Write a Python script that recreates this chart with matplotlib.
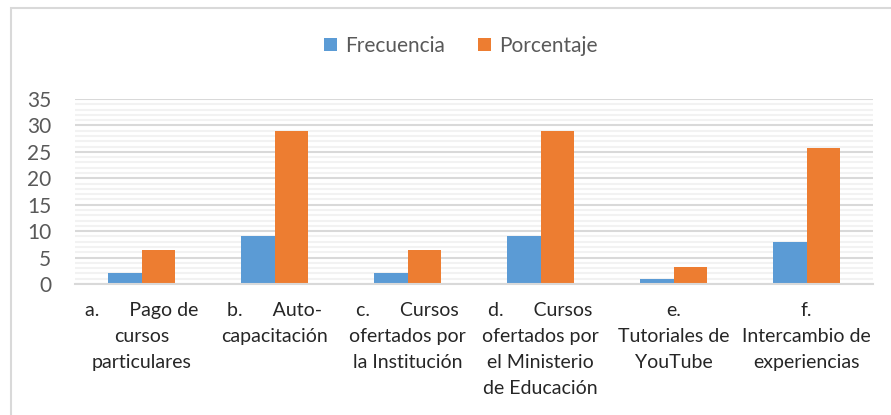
import matplotlib
matplotlib.use("Agg")
import matplotlib.pyplot as plt
from matplotlib.patches import Rectangle
import numpy as np

categories = [
    "a.      Pago de\ncursos\nparticulares",
    "b.      Auto-\ncapacitación",
    "c.      Cursos\nofertados por\nla Institución",
    "d.      Cursos\nofertados por\nel Ministerio\nde Educación",
    "e.\nTutoriales de\nYouTube",
    "f.\nIntercambio de\nexperiencias",
]
frecuencia = [2, 9, 2, 9, 1, 8]
porcentaje = [6.45, 29.03, 6.45, 29.03, 3.23, 25.81]
series_names = ["Frecuencia", "Porcentaje"]
colors = ["#5B9BD5", "#ED7D31"]

plt.rcParams['font.family'] = ['Lato', 'DejaVu Sans']

fig = plt.figure(figsize=(8.91, 4.15), dpi=100)
fig.patches.append(Rectangle((11/891, -0.1), 1.2, 1 - 8/415 + 0.1, transform=fig.transFigure,
                             fill=False, edgecolor="#D9D9D9", linewidth=1.5))
ax = fig.add_axes([75/891, 1 - 284/415, (873 - 75)/891, (284 - 99)/415])

x = np.arange(len(categories))
w = 0.25
ax.bar(x - w/2, frecuencia, w, color=colors[0], label=series_names[0], zorder=3)
ax.bar(x + w/2, porcentaje, w, color=colors[1], label=series_names[1], zorder=3)

ax.set_xlim(-0.5, len(categories) - 0.5)
ax.set_ylim(0, 35)
ax.set_yticks(np.arange(0, 36, 5))
ax.set_yticks(np.arange(0, 36, 1), minor=True)
ax.grid(axis='y', which='minor', color="#F2F2F2", linewidth=1.5, zorder=0)
ax.grid(axis='y', which='major', color="#D9D9D9", linewidth=1.5, zorder=1)
ax.tick_params(axis='y', which='both', length=0, labelsize=15, labelcolor="#595959", pad=17)
ax.set_xticks(x)
ax.set_xticklabels(categories, fontsize=14, color="#262626", linespacing=1.63, va='top')
ax.tick_params(axis='x', length=0, pad=13)
for s in ["top", "right", "left"]:
    ax.spines[s].set_visible(False)
ax.spines["bottom"].set_color("#D9D9D9")
ax.spines["bottom"].set_linewidth(1.5)
ax.spines["bottom"].set_zorder(4)

fig.legend(loc='center', bbox_to_anchor=(461/891, 1 - 46/415), ncol=2, frameon=False,
           fontsize=15, labelcolor="#595959", handlelength=0.6, handleheight=0.6,
           handletextpad=0.4, columnspacing=1.6)

fig.savefig("out.png", dpi=100)
